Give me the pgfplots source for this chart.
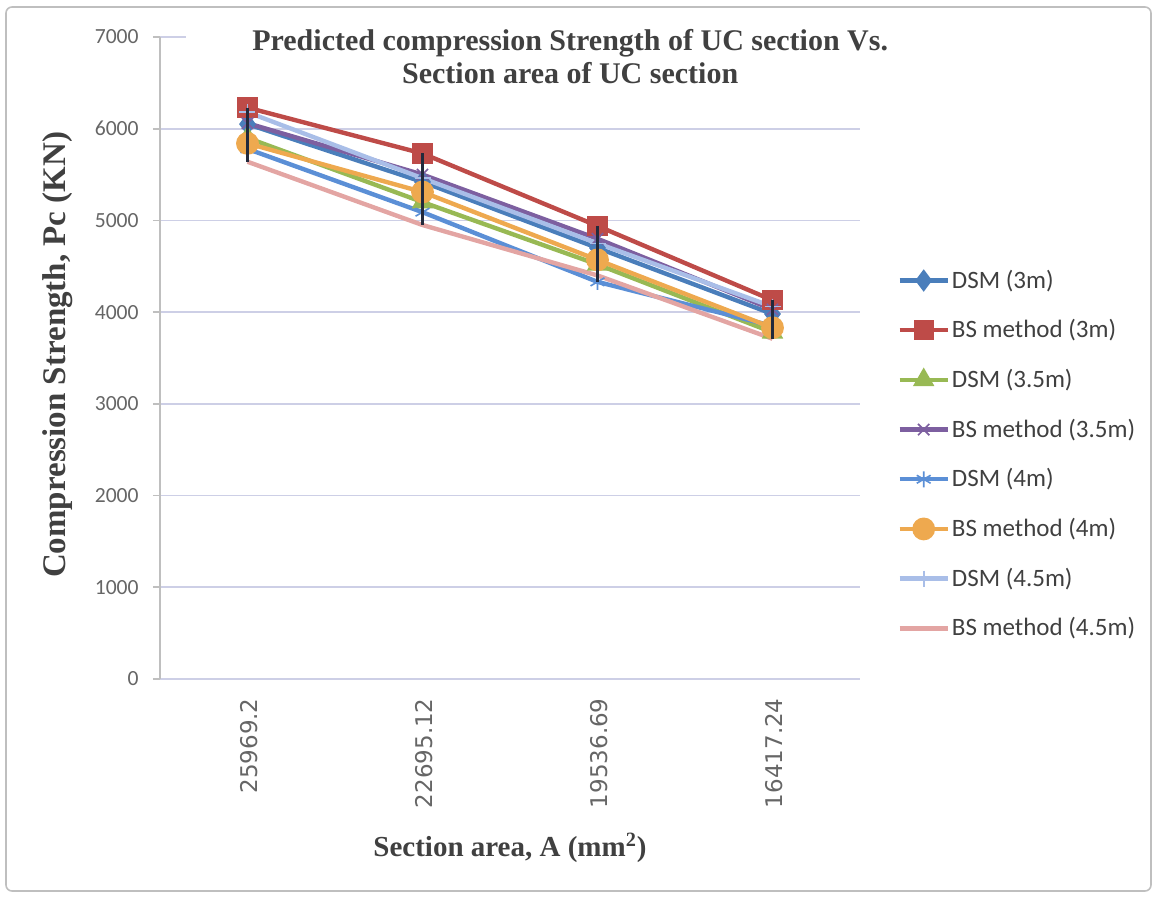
\documentclass[border=0pt]{standalone}
\usepackage{pgfplots}
\pgfplotsset{compat=1.18}
\usepackage{fontspec}
\setmainfont{Carlito}
\newfontfamily\tnr{Liberation Serif}
\newfontfamily\dejavu{DejaVu Sans}

\definecolor{cDSMa}{HTML}{4A7EBB}
\definecolor{cBSa}{HTML}{BE4B48}
\definecolor{cDSMb}{HTML}{98B954}
\definecolor{cBSb}{HTML}{7D5FA0}
\definecolor{cDSMc}{HTML}{5B8FD6}
\definecolor{cBSc}{HTML}{EEA94F}
\definecolor{cDSMd}{HTML}{A9BEE8}
\definecolor{cBSd}{HTML}{E3A5A3}
\definecolor{gridc}{HTML}{CDCFE6}
\definecolor{framec}{HTML}{BFBFBF}
\definecolor{labc}{HTML}{404040}
\definecolor{tickc}{HTML}{666666}
\definecolor{hilo}{HTML}{222A3C}

\pgfplotsset{
  ucframe/.style={
    at={(0,0)}, anchor=south west,
    scale only axis, width=350pt, height=321pt,
    xmin=-0.5, xmax=3.5, ymin=0, ymax=7000,
    clip=false,
  },
}

\begin{document}
\begin{tikzpicture}
% page size and chart frame
\path[use as bounding box] (-80pt,-109pt) rectangle (498.5pt,339.5pt);
\draw[framec, line width=0.8pt, rounded corners=3pt] (-77pt,-106pt) rectangle (495.5pt,336pt);

\begin{axis}[
  ucframe,
  xtick={0,1,2,3},
  xticklabels={25969.2,22695.12,19536.69,16417.24},
  ytick={0,1000,...,7000},
  axis lines*=left,
  x axis line style={draw=gridc, line width=0.8pt},
  y axis line style={draw=framec, line width=0.8pt},
  ymajorgrids, grid style={gridc, line width=0.8pt},
  tick align=outside, major tick length=3.5pt,
  xtick style={draw=none},
  ytick style={draw=framec, line width=0.8pt},
  /pgf/number format/assume math mode=true,
  /pgf/number format/1000 sep={},
  yticklabel style={font=\fontsize{10.8}{12}\selectfont, text=tickc, inner sep=0pt, xshift=-7pt},
  xticklabel style={rotate=90, anchor=east, font=\dejavu\fontsize{11.5}{13}\selectfont, text=tickc, inner sep=0pt, xshift=-6pt, yshift=-1pt},
  xlabel={\tnr\bfseries\fontsize{14.5}{16}\selectfont Section area, A (mm\textsuperscript{2})},
  xlabel style={at={(axis description cs:0.5,-0.263)}, anchor=center, text=labc},
  ylabel={\tnr\bfseries\fontsize{16.5}{18}\selectfont Compression Strength, Pc (KN)},
  ylabel style={at={(axis description cs:-0.1457,0.505)}, anchor=center, text=labc},
  every axis plot/.append style={line width=2.2pt},
  legend image code/.code={\draw[mark repeat=2,mark phase=2] plot coordinates {(0pt,0pt) (12pt,0pt) (24pt,0pt)};},
  legend style={at={(rel axis cs:1.053,0.641)}, anchor=north west, draw=none, fill=none,
    font=\fontsize{12.5}{14}\selectfont, text=labc, row sep=12.2pt, inner sep=0pt,
    nodes={inner sep=1pt}},
  legend cell align=left,
]
\addplot[cDSMa, mark=diamond*, mark size=3.8pt, mark options={solid, fill=cDSMa}]
  coordinates {(0,6050) (1,5420) (2,4700) (3,3980)};
\addlegendentry{DSM (3m)}
\addplot[cBSa, mark=square*, mark size=4pt, mark options={solid, fill=cBSa}]
  coordinates {(0,6230) (1,5730) (2,4940) (3,4130)};
\addlegendentry{BS method (3m)}
\addplot[cDSMb, mark=triangle*, mark size=4pt, mark options={solid, fill=cDSMb}]
  coordinates {(0,5900) (1,5200) (2,4520) (3,3780)};
\addlegendentry{DSM (3.5m)}
\addplot[cBSb, mark=x, mark size=4pt, mark options={solid, line width=0.8pt}]
  coordinates {(0,6060) (1,5500) (2,4800) (3,4030)};
\addlegendentry{BS method (3.5m)}
\addplot[cDSMc, mark=asterisk, mark size=4pt, mark options={solid, line width=0.8pt}]
  coordinates {(0,5780) (1,5090) (2,4330) (3,3850)};
\addlegendentry{DSM (4m)}
\addplot[cBSc, mark=*, mark size=4.6pt, mark options={solid, fill=cBSc}]
  coordinates {(0,5840) (1,5310) (2,4570) (3,3830)};
\addlegendentry{BS method (4m)}
\addplot[cDSMd, mark=+, mark size=4pt, mark options={solid, line width=0.8pt}]
  coordinates {(0,6180) (1,5460) (2,4750) (3,4060)};
\addlegendentry{DSM (4.5m)}
\addplot[cBSd, mark=none]
  coordinates {(0,5640) (1,4950) (2,4400) (3,3710)};
\addlegendentry{BS method (4.5m)}

% chart title on a white box over the top gridline
\node[fill=white, align=center, inner xsep=33pt, inner ysep=3pt, text=labc,
      font=\tnr\bfseries\fontsize{15}{16.5}\selectfont]
  at (rel axis cs:0.586,0.969)
  {Predicted compression Strength of UC section Vs.\\ Section area of UC section};
\end{axis}

% high-low lines spanning the series at each section, above all series
\begin{axis}[ucframe, hide axis]
\addplot[hilo, line width=1.1pt] coordinates {(0,6230) (0,5640)};
\addplot[hilo, line width=1.1pt] coordinates {(1,5730) (1,4950)};
\addplot[hilo, line width=1.1pt] coordinates {(2,4940) (2,4330)};
\addplot[hilo, line width=1.1pt] coordinates {(3,4130) (3,3710)};
\end{axis}
\end{tikzpicture}
\end{document}
